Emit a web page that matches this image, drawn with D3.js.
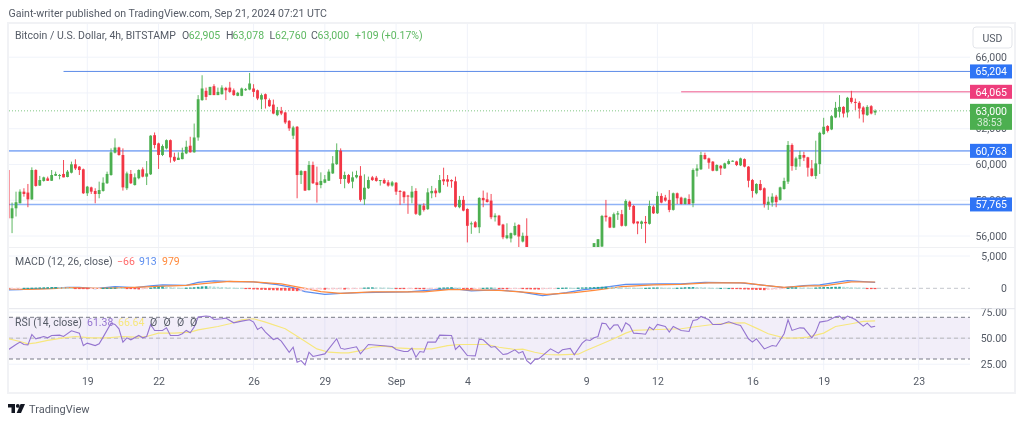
<!DOCTYPE html>
<html>
<head>
<meta charset="utf-8">
<script src="https://cdn.jsdelivr.net/npm/d3@7"></script>
<style>
html, body { margin: 0; background: #fff; }
svg { display: block; filter: blur(0.35px); }
text { font-family: Roboto, "Open Sans", sans-serif; }
.grid line { stroke: #f0f3fa; }
.axis text { fill: #555b66; font-size: 10.5px; }
.axis path, .axis line { display: none; }
</style>
</head>
<body>
<div id="chart"></div>
<script>
// 4h bars, [open, high, low, close], starting Aug 15 2024 16:00 UTC
var ohlc = [
[59690,59690,56990,56990],[56990,57870,56160,57550],[57550,58480,57090,57890],[57830,58610,57830,58480],[58480,58670,58200,58350],
[58430,58910,57610,58050],[58050,59840,58020,59690],[59690,59730,58760,58800],[58820,59360,58800,59130],[59080,59320,59040,59280],
[59220,59320,59080,59090],[59090,59690,59080,59410],[59370,59600,59360,59470],[59370,59470,59170,59410],[59470,60250,59280,59280],
[59300,59690,59280,59600],[59540,60160,59500,60010],[60010,60290,59690,59780],[59880,59910,59410,59690],[59730,59770,58350,58390],
[58390,58800,58240,58760],[58720,58760,58350,58480],[58520,58670,57830,58350],[58350,59040,58110,58570],[58520,59280,58480,58980],
[58950,59600,58910,59470],[59410,60900,59370,60680],[60660,61460,60620,60950],[60950,60990,60490,60530],[60530,60900,58540,58720],
[58670,59600,58570,59500],[59470,59690,58910,58950],[58850,59500,58820,59280],[59230,59730,59170,59690],[59730,59840,59280,59320],
[59320,60190,58850,59500],[59450,61640,59410,61610],[61640,61790,60900,61090],[61180,61220,59750,60530],[60530,61120,60470,61030],
[60900,61400,60840,61360],[61360,61400,60100,60400],[60430,60660,60140,60210],[60250,60680,60250,60380],[60300,60940,60290,60660],
[60620,61330,60580,60990],[61050,61550,60660,60680],[60680,62290,60660,61510],[61510,63880,61330,63650],[63600,64990,63560,64250],
[64120,64300,63600,63780],[63880,64340,63880,64340],[64380,64490,63880,63880],[63880,64300,63880,64060],[63930,64430,63910,64300],
[64280,64340,63600,64150],[64300,64620,64010,64060],[64150,64250,63840,63880],[63840,64060,63820,64010],[63840,64300,63820,64250],
[64150,64280,64120,64210],[64190,65120,64150,64530],[64250,64490,63780,64060],[64150,64190,63600,63690],[63630,63970,63090,63880],
[63930,63970,63130,63650],[63600,63690,63220,63260],[63350,63630,62810,62850],[62760,63220,62700,63040],[63000,63220,62760,62850],
[62910,62950,62260,62350],[62440,62480,61880,62020],[61610,62160,61420,62070],[62110,62150,58110,59410],[59410,59690,58910,59630],
[59630,59650,58520,58540],[58570,60190,58540,59970],[59970,60160,58910,58950],[59000,59880,57870,58850],[58850,59560,58670,59080],
[58980,59410,58950,59170],[59090,59730,59080,59600],[59500,60470,59470,60060],[60020,61180,59970,60810],[60770,60900,58910,59190],
[59190,59600,58670,59410],[59410,59470,58910,58980],[59040,59600,58670,59280],[59280,59650,59220,59410],[59370,59910,57920,58020],
[58050,59450,57740,58700],[58670,59320,58630,59130],[59280,59360,59080,59130],[59260,59360,59040,59080],[59080,59130,58820,59130],
[59130,59220,58910,58950],[59000,59130,58760,58820],[58820,59080,58760,59000],[58980,59020,58300,58480],[58520,58570,57740,58480],
[58480,58520,57830,58170],[58260,58300,57240,58220],[58150,58800,57830,58480],[58520,58670,57180,57240],[57180,57770,57120,57740],
[57700,57830,57370,57460],[57500,58670,57460,58440],[58390,58800,58110,58520],[58540,58670,58170,58390],[58430,59410,58390,59130],
[59170,59820,58850,59060],[59170,59410,58760,59040],[59130,59170,58700,59060],[59060,59320,57590,57640],[57610,58240,57550,58020],
[58020,58240,57380,57420],[57510,57550,55640,56570],[56660,56810,56120,56710],[56770,56840,56470,56490],[56490,58170,56160,58130],
[58130,58540,57610,58000],[58050,58430,57870,57900],[57980,58350,56940,57050],[57050,57270,56810,57140],[57140,57180,56570,56600],
[56640,56680,55820,55930],[55880,56710,55820,56040],[55860,56190,55640,56160],[56060,56750,56010,56560],[56620,56660,55370,55970],
[55690,56190,55640,56010],[56010,56990,54900,55200],
// these sit below the bottom of the price pane in the picture
[54900,55200,54300,54500],[54500,54900,54000,54200],[54200,54700,53800,54600],[54600,55000,54200,54400],[54400,54800,53200,53600],
[53600,54000,52600,53000],[53000,54000,52800,53800],[53800,54300,53600,54100],[54100,54500,53700,53900],[53900,54200,53500,54000],
[54000,54600,53800,54400],[54400,54700,54100,54300],[54300,54600,53900,54500],[54500,54900,54200,54700],[54700,55100,54500,54900],
[54900,55250,54700,55100],
[55100,55600,55000,55600],[55200,55820,55100,55820],[55410,57180,55370,57120],[57140,58020,56810,57050],[57050,57090,56440,56470],
[56470,57310,56440,57220],[57200,57400,56900,57270],[57220,57460,56530,56570],[56570,58050,56530,57960],[57920,57980,57460,57640],
[57680,57740,56660,56710],[56810,56810,56100,56700],[56680,56860,56400,56810],[56790,57120,55600,56710],[56680,57980,56640,57680],
[57640,57720,57230,57270],[57270,58480,57230,58240],[58240,58390,57830,57870],[58150,58300,57920,57980],[58020,58570,57330,57460],
[57460,58430,57420,58390],[58390,58430,57790,58110],[58150,58200,57760,57790],[57790,58150,57760,58110],[58070,58330,57760,57790],
[57830,59780,57610,59690],[59650,60010,59320,59780],[59730,60710,59690,60530],[60530,60660,60270,60300],[60340,60380,59760,60100],
[60160,60190,59620,59650],[59650,60010,59620,59970],[59930,59970,59410,59780],[59780,60100,59760,60060],[60030,60290,59990,60190],
[60170,60230,60160,60210],[60170,60210,59910,59970],[59950,60380,59910,60340],[60300,60340,59840,59880],[59880,59910,58720,59090],
[59130,59190,58150,58520],[58390,58950,58330,58910],[58910,59130,58540,58570],[58670,58720,57590,57780],[57740,58200,57460,57920],
[57870,58390,57640,58200],[58200,58300,57610,57890],[58020,58760,57980,58720],[58630,59260,58590,59080],[59040,61310,58910,61090],
[61090,61180,59650,59910],[59880,60430,59690,60340],[60300,60770,59880,60530],[60530,60710,60190,60380],[60400,60430,59320,59820],
[59780,60250,59320,59360],[59360,61330,59190,60060],[60020,61830,59470,61770],[61700,62610,61660,62110],[62150,62200,61790,61880],
[61960,62760,61920,62700],[62630,63500,62590,63170],[62950,63880,62630,63220],[63220,63260,62630,62850],[62910,63780,62630,63730],
[63730,64120,63410,63500],[63500,63690,63040,63450],[63450,63540,62570,63130],[63190,63260,62350,62800],[62760,63320,62720,63220],
[63260,63320,62800,62850],[62905,63078,62760,63000]
];

// MACD histogram, one value per bar
var macdHist = [
-40,-30,-20,-10,10,20,30,50,70,90,110,130,140,120,80,50,20,-10,-30,-50,
-80,-60,-40,-20,10,20,40,50,40,20,-10,-30,-80,-120,-100,-60,40,120,170,200,
190,120,70,40,30,40,60,100,170,230,260,250,210,170,130,100,60,40,20,10,
-20,-60,-110,-130,-170,-190,-220,-240,-260,-280,-300,-320,-340,-380,-330,-300,-240,-200,-170,-140,
-160,-130,-120,-110,-100,-130,-110,-70,-40,-20,50,70,90,70,60,50,30,10,-20,-30,
-40,-30,-20,-40,-70,-90,-60,-40,-20,30,60,80,110,70,30,-40,-90,-120,-90,-60,
20,40,50,40,-20,-70,-90,-80,-50,-30,-60,-90,-100,-120,-130,-110,-70,-40,-20,10,
30,50,30,20,40,70,90,100,120,150,180,190,170,120,90,70,60,50,40,20,
10,20,40,60,70,60,40,20,10,30,50,100,120,130,120,100,80,50,20,10,
10,5,5,-30,-60,-80,-110,-130,-160,-190,-200,-230,-200,-170,-130,-100,-60,20,80,100,
80,60,50,40,60,100,130,140,150,170,180,170,130,90,70,50,30,-20,-50,-66
];

// MACD lines, read at their turning points
var macdBars = [0,3,6,11,15,18,22,27,32,36,39,45,48,52,57,62,68,72,75,80,84,89,101,109,113,117,123,129,135,141,145,150,156,165,170,176,185,190,196,201,205,212,219];
var macdValues = [-258,-206,-103,0,155,155,-52,258,103,361,516,464,929,1135,1032,980,568,103,-516,-929,-774,-671,-568,-155,-103,-413,-258,-516,-1135,-671,-258,103,619,671,671,929,826,516,103,413,516,1187,913];
var signalBars = [0,5,11,16,23,32,38,45,50,56,62,69,74,79,84,92,105,112,117,124,131,136,143,148,155,163,170,177,186,191,196,202,206,213,219];
var signalValues = [-103,-155,-52,103,0,155,310,464,774,1084,980,671,103,-516,-774,-568,-568,-155,-258,-310,-619,-929,-671,-310,258,516,619,826,826,464,155,361,361,980,979];

// RSI and its average, read at their turning points
var rsiBars = [0,2,3,4,5,6,7,9,10,11,13,14,16,18,19,20,22,23,24,26,27,28,29,30,31,33,34,35,36,37,39,40,41,43,44,45,46,47,48,50,51,52,54,55,56,57,59,61,62,63,64,65,67,68,69,71,72,73,74,75,76,77,80,83,84,85,88,89,91,94,97,98,100,101,102,103,104,105,106,108,109,112,113,114,116,118,119,120,122,123,125,126,128,129,130,131,132,133,134,137,139,140,142,143,145,146,147,148,149,150,151,152,153,154,155,156,157,158,160,161,162,163,164,166,167,168,170,172,173,174,175,177,178,180,182,184,185,187,188,189,191,193,194,196,197,198,200,201,203,204,205,207,209,210,211,212,214,216,217,218,219];
var rsiValues = [38.8,43.9,46.2,43.9,43.6,53.5,49.4,51.6,50.3,52.6,52.9,51.6,57.1,54.8,42.9,45.2,42.9,44.6,51,64.4,63.1,59,46.2,50.3,48.4,52.6,50.3,51.6,63.1,57.4,57.4,59.9,52.6,52.6,54.2,57.4,55.1,60.6,70.2,71.2,70.8,67.9,68.6,69.2,67,64.7,66.3,67.6,65.4,58.3,60.6,55.8,48.7,50,47.1,36.5,41.3,26.9,28.5,24.4,36.5,32.4,34.9,49.4,40.4,39.4,41.7,34.9,43.9,42.9,42,39.1,37.2,37.2,40.4,31.7,37.2,36.5,46.2,46.2,52.9,52.6,39.1,42.9,33.3,33,49,48.4,41.3,42,34.3,34.9,38.8,35.6,37.2,28.5,25.3,29.5,30.1,39.7,35.6,38.8,40.1,34,45.2,48.4,47.8,50.3,51.6,64.4,63.8,58.3,62.5,62.8,56.4,64.7,62.2,54.8,54.2,53.8,60.6,58,63.1,61.2,55.8,61.2,57.4,56.4,67,67.6,70.8,67.6,63.1,63.1,65.7,63.1,62.2,49.4,46.2,49.4,39.7,42.9,42.3,54.2,67.6,57.4,59.9,59.6,50.3,55.8,65.4,66.7,70.5,71.2,67.9,71.2,67.9,61.5,64.4,60.6,61.38];
var rsiMaBars = [0,3,5,7,10,14,17,21,25,29,32,35,38,42,46,48,53,56,59,62,65,70,74,78,81,84,86,89,92,95,98,103,107,111,114,121,124,128,130,133,136,139,144,146,149,153,156,158,164,170,174,178,182,186,189,192,196,199,202,206,209,213,216,219];
var rsiMaValues = [49.4,46.8,44.6,45.5,47.8,50.3,51.6,50.3,50.3,51.6,51,51.6,54.8,54.8,55.8,58,61.2,63.8,67.6,68.6,65.4,59,49.4,39.7,36.5,35.9,35.9,38.1,41.3,42.3,40.7,39.7,39.7,42.9,43.9,43.9,41.3,39.1,39.4,36.5,34.3,34,34.6,38.1,42.9,49.4,54.8,57.4,58.3,59,61.2,63.1,64.4,64.7,59.6,54.2,50.3,50,51,54.8,61.2,63.8,66,66.64];

// axis ticks
var dateTicks = [[7,19],[7,22],[7,26],[7,29],[8,1],[8,4],[8,9],[8,12],[8,16],[8,19],[8,23]];
var dateLabels = ["19","22","26","29","Sep","4","9","12","16","19","23"];
var priceTicks = [66000,64000,62000,60000,58000,56000];
var macdTicks = [5000,0];
var rsiTicks = [75,50,25];
var rsiBands = [70,50,30];

// horizontal levels drawn on the chart
var levelPrices = [65204,64065,60763,57765];
var levelFromBar = [14,170,0,0];
var levelLabels = ["65,204","64,065","60,763","57,765"];
var levelColors = ["#5b8be8","#f48fb1","#8fb2f6","#8fb2f6"];
var levelWidths = [1,1.6,1.6,1.6];
var levelFills = ["#2f74f5","#ee3d7c","#2f74f5","#2f74f5"];
var lastPrice = 63000;

var width = 1024, height = 424;
var left = 9, right = 970, frameRight = 1015, frameTop = 23, frameBottom = 393;
var mainBottom = 247.5, macdBottom = 308.7, rsiBottom = 370;
var green = "#4caf50", red = "#f23645";

var start = Date.UTC(2024, 7, 15, 16);
function barTime(i) { return new Date(start + i * 4 * 3600 * 1000); }

var xScale = d3.scaleUtc().domain([barTime(0), barTime(230)]).range([8.1, 918.7]);
var yPrice = d3.scaleLinear().domain([66000, 56000]).range([57.2, 236]);
var yMacd = d3.scaleLinear().domain([5000, 0]).range([256, 288.3]);
var yRsi = d3.scaleLinear().domain([70, 30]).range([317.3, 359]);

function barX(i) { return xScale(barTime(i)); }

var svg = d3.select("#chart").append("svg")
    .attr("width", width)
    .attr("height", height);

var defs = svg.append("defs");
addClip("mainClip", mainBottom - frameTop, frameTop);
addClip("macdClip", macdBottom - mainBottom, mainBottom);
addClip("rsiClip", rsiBottom - macdBottom, macdBottom);
function addClip(id, h, y) {
  defs.append("clipPath").attr("id", id).append("rect")
      .attr("x", left).attr("y", y).attr("width", right - left).attr("height", h);
}

// publish line
svg.append("text").attr("x", 8.5).attr("y", 16.5).attr("fill", "#555b66").style("font-size", "10.6px")
    .text("Gaint-writer published on TradingView.com, Sep 21, 2024 07:21 UTC");

// grid
var gridG = svg.append("g").attr("class", "grid");
gridG.selectAll(".v").data(dateTicks).enter().append("line")
    .attr("x1", function(d) { return xScale(new Date(Date.UTC(2024, d[0], d[1]))); })
    .attr("x2", function(d) { return xScale(new Date(Date.UTC(2024, d[0], d[1]))); })
    .attr("y1", frameTop).attr("y2", rsiBottom);
gridG.selectAll(".hp").data(priceTicks).enter().append("line")
    .attr("x1", left).attr("x2", right)
    .attr("y1", function(d) { return yPrice(d); }).attr("y2", function(d) { return yPrice(d); });
gridG.append("line").attr("x1", left).attr("x2", right).attr("y1", yMacd(5000)).attr("y2", yMacd(5000));
gridG.selectAll(".hr").data(rsiTicks).enter().append("line")
    .attr("x1", left).attr("x2", right)
    .attr("y1", function(d) { return yRsi(d); }).attr("y2", function(d) { return yRsi(d); });

// main pane
var mainG = svg.append("g").attr("clip-path", "url(#mainClip)");

mainG.append("line").attr("x1", left).attr("x2", right)
    .attr("y1", yPrice(lastPrice)).attr("y2", yPrice(lastPrice))
    .attr("stroke", "#81c784").attr("stroke-dasharray", "1 2").attr("stroke-width", 1);

mainG.selectAll(".level").data(levelPrices).enter().append("line")
    .attr("x1", function(d, i) { return Math.max(left, barX(levelFromBar[i])); })
    .attr("x2", right)
    .attr("y1", function(d) { return yPrice(d); }).attr("y2", function(d) { return yPrice(d); })
    .attr("stroke", function(d, i) { return levelColors[i]; })
    .attr("stroke-width", function(d, i) { return levelWidths[i]; });

function candleColor(d) { return d[3] >= d[0] ? green : red; }

var candle = mainG.selectAll(".candle").data(ohlc).enter().append("g").attr("class", "candle");
candle.append("line")
    .attr("x1", function(d, i) { return barX(i); })
    .attr("x2", function(d, i) { return barX(i); })
    .attr("y1", function(d) { return yPrice(d[1]); })
    .attr("y2", function(d) { return yPrice(d[2]); })
    .attr("stroke", candleColor)
    .attr("stroke-width", 0.9);
candle.append("rect")
    .attr("x", function(d, i) { return barX(i) - 1.4; })
    .attr("width", 2.8)
    .attr("y", function(d) { return yPrice(Math.max(d[0], d[3])); })
    .attr("height", function(d) { return Math.max(1, Math.abs(yPrice(d[0]) - yPrice(d[3]))); })
    .attr("fill", candleColor);

// macd pane
var macdG = svg.append("g").attr("clip-path", "url(#macdClip)");
macdG.append("line").attr("x1", left).attr("x2", right).attr("y1", yMacd(0)).attr("y2", yMacd(0))
    .attr("stroke", "#c4c6cc").attr("stroke-dasharray", "4 3");

function pairLine(yScale) {
  return d3.line().x(function(d) { return barX(d[0]); }).y(function(d) { return yScale(d[1]); });
}

macdG.append("path").datum(d3.zip(macdBars, macdValues))
    .attr("d", pairLine(yMacd)).attr("fill", "none").attr("stroke", "#5b8def").attr("stroke-width", 1.2);
macdG.append("path").datum(d3.zip(signalBars, signalValues))
    .attr("d", pairLine(yMacd)).attr("fill", "none").attr("stroke", "#ff8a3c").attr("stroke-width", 1.2);

// histogram goes over the lines so the small bars stay visible
macdG.selectAll(".hist").data(macdHist).enter().append("rect")
    .attr("x", function(d, i) { return barX(i) - 1.3; })
    .attr("width", 2.6)
    .attr("y", function(d) { return Math.min(yMacd(0), yMacd(d)) - 0.4; })
    .attr("height", function(d) { return Math.max(1.2, Math.abs(yMacd(d) - yMacd(0)) + 0.8); })
    .attr("fill", function(d, i) {
      var prev = i > 0 ? macdHist[i - 1] : d;
      if (d >= 0) return d >= prev ? "#26a69a" : "#b2dfdb";
      return d <= prev ? "#ff5252" : "#ffcdd2";
    });

// rsi pane
var rsiG = svg.append("g").attr("clip-path", "url(#rsiClip)");
rsiG.append("rect").attr("x", left).attr("width", right - left)
    .attr("y", yRsi(70)).attr("height", yRsi(30) - yRsi(70))
    .attr("fill", "#7e57c2").attr("fill-opacity", 0.1);
rsiG.selectAll(".band").data(rsiBands).enter().append("line")
    .attr("x1", left).attr("x2", right)
    .attr("y1", function(d) { return yRsi(d); }).attr("y2", function(d) { return yRsi(d); })
    .attr("stroke", function(d) { return d == 50 ? "#b5b5ba" : "#787b86"; })
    .attr("stroke-dasharray", "4 3");
rsiG.append("path").datum(d3.zip(rsiMaBars, rsiMaValues))
    .attr("d", pairLine(yRsi)).attr("fill", "none").attr("stroke", "#f7e77e").attr("stroke-width", 1.2);
rsiG.append("path").datum(d3.zip(rsiBars, rsiValues))
    .attr("d", pairLine(yRsi)).attr("fill", "none").attr("stroke", "#9575d0").attr("stroke-width", 1.1);

// axes
var axisX = 1007;
var axisPrice = svg.append("g").attr("class", "axis").attr("transform", "translate(" + axisX + ",0)")
    .call(d3.axisLeft(yPrice).tickValues(priceTicks).tickSize(0).tickPadding(0).tickFormat(d3.format(",")));
axisPrice.selectAll("text").attr("dy", "0.3em");
var axisMacd = svg.append("g").attr("class", "axis").attr("transform", "translate(" + axisX + ",0)")
    .call(d3.axisLeft(yMacd).tickValues(macdTicks).tickSize(0).tickPadding(0).tickFormat(d3.format(",")));
axisMacd.selectAll("text").attr("dy", "0.3em");
var axisRsi = svg.append("g").attr("class", "axis").attr("transform", "translate(" + axisX + ",0)")
    .call(d3.axisLeft(yRsi).tickValues(rsiTicks).tickSize(0).tickPadding(0).tickFormat(d3.format(".2f")));
axisRsi.selectAll("text").attr("dy", "0.3em");

var axisTime = svg.append("g").attr("class", "axis").attr("transform", "translate(0,377.5)")
    .call(d3.axisBottom(xScale)
        .tickValues(dateTicks.map(function(d) { return new Date(Date.UTC(2024, d[0], d[1])); }))
        .tickSize(0).tickPadding(0)
        .tickFormat(function(d, i) { return dateLabels[i]; }));

// frame and pane separators
svg.append("rect").attr("x", 8).attr("y", frameTop).attr("width", frameRight - 8).attr("height", frameBottom - frameTop)
    .attr("fill", "none").attr("stroke", "#f1f2f5").attr("stroke-width", 2);
svg.append("line").attr("x1", 9).attr("x2", frameRight).attr("y1", mainBottom).attr("y2", mainBottom)
    .attr("stroke", "#eff0f3");
svg.append("line").attr("x1", 9).attr("x2", frameRight).attr("y1", macdBottom).attr("y2", macdBottom)
    .attr("stroke", "#e4e6ec");

// currency button
svg.append("rect").attr("x", 973).attr("y", 27).attr("width", 39).attr("height", 21).attr("rx", 3)
    .attr("fill", "#fff").attr("stroke", "#e3e5ea");
svg.append("text").attr("x", 992.5).attr("y", 41.5).attr("text-anchor", "middle")
    .attr("fill", "#555b66").style("font-size", "10.5px").text("USD");

// price labels
var tag = svg.selectAll(".tag").data(levelPrices).enter().append("g").attr("class", "tag");
tag.append("rect").attr("x", 970).attr("width", 42).attr("height", 14)
    .attr("y", function(d) { return yPrice(d) - 7; })
    .attr("fill", function(d, i) { return levelFills[i]; });
tag.append("text").attr("x", 1007).attr("text-anchor", "end")
    .attr("y", function(d) { return yPrice(d) + 4; })
    .attr("fill", "#fff").style("font-size", "10.5px")
    .text(function(d, i) { return levelLabels[i]; });

svg.append("rect").attr("x", 970).attr("y", yPrice(lastPrice) - 7).attr("width", 42).attr("height", 26).attr("fill", green);
svg.append("text").attr("x", 1007).attr("y", yPrice(lastPrice) + 4).attr("text-anchor", "end")
    .attr("fill", "#fff").style("font-size", "10.5px").text("63,000");
svg.append("text").attr("x", 1002).attr("y", yPrice(lastPrice) + 15).attr("text-anchor", "end")
    .attr("fill", "#d5ecd6").style("font-size", "10px").text("38:53");

// legends
function legend(y, parts) {
  parts.forEach(function(p) {
    svg.append("text").attr("x", p[0]).attr("y", y).attr("fill", p[2]).style("font-size", "10.5px").text(p[1]);
  });
}
var grey = "#555b66", up = "#5cb860";
legend(39, [
  [15, "Bitcoin / U.S. Dollar, 4h, BITSTAMP", grey],
  [182, "O", grey], [188.7, "62,905", up],
  [226, "H", grey], [232.5, "63,078", up],
  [269.5, "L", grey], [275, "62,760", up],
  [311, "C", grey], [317.5, "63,000", up],
  [355, "+109 (+0.17%)", up]
]);
legend(265, [
  [15, "MACD (12, 26, close)", grey],
  [117, "\u221266", "#ff6b6b"],
  [139, "913", "#5b8def"],
  [162, "979", "#ff8a3c"]
]);
legend(326, [
  [15, "RSI (14, close)", grey],
  [87, "61.38", "#9575d0"],
  [118, "66.64", "#f7e77e"],
  [150, "\u00d8", grey], [163.5, "\u00d8", grey], [177, "\u00d8", grey], [190, "\u00d8", grey]
]);

// logo and wordmark
var logo = svg.append("g").attr("fill", "#131722").attr("transform", "translate(8,404)");
logo.append("path").attr("d", "M0 0H7V9H3.5V3.5H0Z");
logo.append("circle").attr("cx", 9.8).attr("cy", 1.9).attr("r", 1.9);
logo.append("path").attr("d", "M12.6 0H17L13 9H8.6Z");
svg.append("text").attr("x", 29).attr("y", 413).attr("fill", "#555b66").style("font-size", "11px").text("TradingView");
</script>
</body>
</html>
